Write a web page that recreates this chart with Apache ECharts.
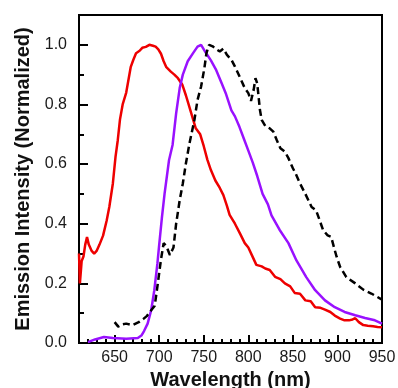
<!DOCTYPE html>
<html>
<head>
<meta charset="utf-8">
<script src="https://cdn.jsdelivr.net/npm/echarts@6/dist/echarts.min.js"></script>
<style>
html,body{margin:0;padding:0;background:#fff;}
#chart{width:398px;height:388px;}
</style>
</head>
<body>
<div id="chart"></div>
<script>
// Red curve
var redX = [610,611,613,615,617,619,621,624,627,630,633,637,641,644,648,651,653.5,656,659,663,668,671,674,678,681,685,689,693,696,699,702,705,708,713,717,721,726,730,733,736,741,746,750,754,758,763,768,772,776,779,785,791,796,800,805,809,815,819,824,830,836,841,847,852,858,864,870,875,881,886,892,897,903,908,913,917,920,924,929,934,940,945,950];
var redY = [0.30,0.20,0.275,0.29,0.33,0.355,0.33,0.31,0.30,0.31,0.33,0.36,0.41,0.456,0.535,0.625,0.68,0.75,0.80,0.84,0.925,0.95,0.972,0.98,0.99,0.993,1.0,0.997,0.994,0.985,0.97,0.945,0.925,0.91,0.90,0.888,0.866,0.83,0.80,0.77,0.72,0.70,0.66,0.615,0.58,0.545,0.52,0.496,0.46,0.43,0.40,0.365,0.335,0.32,0.288,0.262,0.257,0.25,0.245,0.222,0.214,0.2,0.19,0.168,0.165,0.143,0.14,0.12,0.118,0.112,0.104,0.092,0.082,0.076,0.076,0.079,0.083,0.07,0.06,0.058,0.056,0.054,0.053];
// Purple curve
var purpleX = [620,628,638,648,663,676,680,683,687,691,694.5,698,700,703,706,711,715,719,723,726.5,732,738,743,747,752,758,764,769.5,775,781,785,790,795,800,805,810,816,822,826,835,845,854,865,875,886,897,908,920,931,942,950];
var purpleY = [0.003,0.012,0.02,0.017,0.014,0.017,0.025,0.04,0.065,0.11,0.177,0.267,0.33,0.42,0.50,0.613,0.664,0.77,0.855,0.90,0.945,0.972,0.994,1.0,0.975,0.948,0.915,0.875,0.835,0.78,0.76,0.725,0.685,0.645,0.605,0.56,0.50,0.465,0.428,0.38,0.335,0.277,0.221,0.177,0.143,0.12,0.104,0.093,0.084,0.076,0.065];
// Black dashed curve
var blackX = [650,654,658,663,670,677,682,686,691,695,698,702,705,708,712,716,719,723,726.5,730,734,739.5,743,747,750.7,753,756,760,764,768,772,776,781,785,791,796,800,803,806,808,810,811.5,813,815,819,824,828,832,836,841,845,850,853,858,864,868,871,876,880,884,889,893,896,899,903,910,920,929,938,948,950];
var blackY = [0.07,0.055,0.062,0.065,0.06,0.07,0.08,0.09,0.11,0.125,0.19,0.28,0.335,0.325,0.295,0.32,0.40,0.479,0.535,0.603,0.67,0.748,0.815,0.86,0.922,0.972,1.0,0.995,0.985,0.978,0.987,0.966,0.95,0.927,0.888,0.855,0.838,0.812,0.849,0.888,0.87,0.827,0.782,0.748,0.728,0.72,0.709,0.68,0.653,0.642,0.62,0.586,0.569,0.535,0.50,0.475,0.456,0.445,0.412,0.378,0.361,0.356,0.322,0.29,0.255,0.221,0.2,0.179,0.166,0.149,0.145];

var xTitle = 'Wavelength (nm)';
var yTitle = 'Emission Intensity (Normalized)';

function zip(xs, ys){ var o=[]; for(var i=0;i<xs.length;i++){o.push([xs[i],ys[i]]);} return o; }

var FONT = 'Liberation Sans, Arial, sans-serif';
var chart = echarts.init(document.getElementById('chart'), null, {renderer:'canvas'});
chart.setOption({
  animation:false,
  backgroundColor:'#fff',
  grid:{left:79,right:16,top:15,bottom:45,outerBoundsMode:'none',containLabel:false,show:true,borderColor:'#000',borderWidth:2,backgroundColor:'transparent'},
  xAxis:[{
    type:'value',min:610,max:950,interval:10,position:'bottom',
    axisLine:{show:true,lineStyle:{color:'#000',width:2}},
    axisTick:{show:true,inside:true,length:4,lineStyle:{color:'#000',width:2}},
    axisLabel:{show:true,margin:7,color:'#1a1a1a',fontSize:16,fontFamily:FONT,
      formatter:function(v){return (Math.round(v)%50===0)?String(Math.round(v)):'';}},
    splitLine:{show:false},
    name:xTitle,nameLocation:'middle',nameGap:25,
    nameTextStyle:{fontSize:20,fontWeight:'bold',color:'#111',fontFamily:FONT}
  },{
    type:'value',min:610,max:950,minInterval:50,maxInterval:50,position:'bottom',
    axisLine:{show:false},
    axisTick:{show:true,inside:true,length:8,lineStyle:{color:'#000',width:2}},
    axisLabel:{show:false},splitLine:{show:false}
  }],
  yAxis:[{
    type:'value',min:0,max:1.1,interval:0.1,position:'left',
    axisLine:{show:true,lineStyle:{color:'#000',width:2}},
    axisTick:{show:true,inside:true,length:5,lineStyle:{color:'#000',width:2}},
    axisLabel:{show:false},splitLine:{show:false}
  },{
    type:'value',min:0,max:1.1,interval:0.2,position:'left',
    axisLine:{show:false},
    axisTick:{show:true,inside:true,length:9,lineStyle:{color:'#000',width:2}},
    axisLabel:{show:true,margin:12,color:'#1a1a1a',fontSize:16,fontFamily:FONT,
      formatter:function(v){return v>1.05?'':v.toFixed(1);}},
    splitLine:{show:false},
    name:yTitle,nameLocation:'middle',nameGap:37,nameRotate:90,
    nameTextStyle:{fontSize:20,fontWeight:'bold',color:'#111',fontFamily:FONT}
  }],
  series:[
    {type:'line',xAxisIndex:0,yAxisIndex:0,data:zip(redX,redY),showSymbol:false,symbol:'none',
      lineStyle:{color:'#ee0000',width:2.5},z:3},
    {type:'line',xAxisIndex:0,yAxisIndex:0,data:zip(purpleX,purpleY),showSymbol:false,symbol:'none',
      lineStyle:{color:'#9911ff',width:2.5},z:4},
    {type:'line',xAxisIndex:0,yAxisIndex:0,data:zip(blackX,blackY),showSymbol:false,symbol:'none',
      lineStyle:{color:'#000',width:2.5,type:[7,4]},z:5}
  ]
});
</script>
</body>
</html>
